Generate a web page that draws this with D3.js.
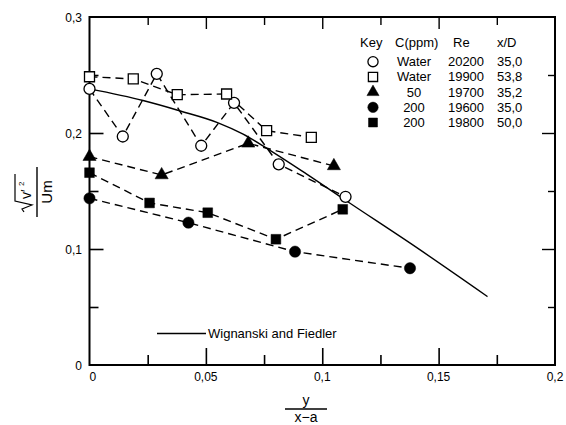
<!DOCTYPE html>
<html>
<head>
<meta charset="utf-8">
<script src="https://cdn.jsdelivr.net/npm/d3@7"></script>
<style>
  html, body { margin: 0; padding: 0; background: #fff; }
  svg { display: block; }
  text { font-family: "Liberation Sans", "DejaVu Sans", sans-serif; fill: #000; }
</style>
</head>
<body>
<svg id="chart" width="566" height="425"></svg>
<script>
// Turbulence intensity profiles: sqrt(v'^2)/Um against y/(x-a)
const waterA_x = [0, 0.0143, 0.0289, 0.0480, 0.0621, 0.0813, 0.1100];
const waterA_y = [0.238, 0.197, 0.251, 0.189, 0.226, 0.173, 0.145];

const waterB_x = [0, 0.0188, 0.0377, 0.0589, 0.0761, 0.0953];
const waterB_y = [0.2485, 0.2466, 0.233, 0.2336, 0.202, 0.1963];

const ppm50_x = [0, 0.031, 0.0682, 0.105];
const ppm50_y = [0.1796, 0.1638, 0.1911, 0.1716];

const ppm200a_x = [0, 0.0425, 0.0883, 0.1377];
const ppm200a_y = [0.1437, 0.1227, 0.0977, 0.0834];

const ppm200b_x = [0, 0.0258, 0.0508, 0.0801, 0.1088];
const ppm200b_y = [0.1658, 0.1397, 0.1313, 0.1084, 0.1342];

// Wygnanski and Fiedler reference curve
const refCurve_x = [0, 0.023, 0.039, 0.055, 0.066, 0.076, 0.093, 0.110, 0.140, 0.171];
const refCurve_y = [0.238, 0.228, 0.219, 0.209, 0.199, 0.187, 0.165, 0.142, 0.102, 0.059];

const xTickValues = [0, 0.05, 0.1, 0.15, 0.2];
const xTickLabels = ["0", "0,05", "0,1", "0,15", "0,2"];
const yTickValues = [0, 0.1, 0.2, 0.3];
const yTickLabels = ["0", "0,1", "0,2", "0,3"];

const legendHeader = ["Key", "C(ppm)", "Re", "x/D"];
const legendConc = ["Water", "Water", "50", "200", "200"];
const legendRe = ["20200", "19900", "19700", "19600", "19800"];
const legendXD = ["35,0", "53,8", "35,2", "35,0", "50,0"];
const refLabel = "Wignanski and Fiedler";

const svg = d3.select("#chart");

const x = d3.scaleLinear().domain([0, 0.2]).range([89.5, 555]);
const y = d3.scaleLinear().domain([0, 0.3]).range([365, 17]);

// Frame
const frame = svg.append("g").attr("stroke", "#000").attr("fill", "none");
frame.append("path")
  .attr("d", `M${x(0)},${y(0.3)}H${x(0.2)}V${y(0)}H${x(0)}Z`)
  .attr("stroke-width", 2);

// Inward ticks on all four sides
const xMinor = d3.range(0, 9).map(i => i * 0.025).filter(v => v > 0 && v < 0.2);
const yMinor = d3.range(0, 7).map(i => i * 0.05).filter(v => v > 0 && v < 0.3);
const isMult = (d, step) => Math.abs(d / step - Math.round(d / step)) < 1e-6;

const bAx = svg.append("g").attr("transform", `translate(0,${y(0)})`)
  .call(d3.axisBottom(x).tickValues(xMinor).tickSizeInner(0).tickSizeOuter(0).tickFormat(""));
bAx.select(".domain").remove();
bAx.selectAll(".tick line")
  .attr("y2", d => isMult(d, 0.05) ? -17 : -10)
  .attr("stroke", "#000").attr("stroke-width", 1.6);

const tAx = svg.append("g").attr("transform", `translate(0,${y(0.3)})`)
  .call(d3.axisTop(x).tickValues(xMinor).tickSizeInner(0).tickSizeOuter(0).tickFormat(""));
tAx.select(".domain").remove();
tAx.selectAll(".tick line")
  .attr("y2", d => isMult(d, 0.05) ? 12 : 8)
  .attr("stroke", "#000").attr("stroke-width", 1.4);

const lAx = svg.append("g").attr("transform", `translate(${x(0)},0)`)
  .call(d3.axisLeft(y).tickValues(yMinor).tickSizeInner(0).tickSizeOuter(0).tickFormat(""));
lAx.select(".domain").remove();
lAx.selectAll(".tick line")
  .attr("x2", d => isMult(d, 0.1) ? 14 : 9)
  .attr("stroke", "#000").attr("stroke-width", 1.6);

const rAx = svg.append("g").attr("transform", `translate(${x(0.2)},0)`)
  .call(d3.axisRight(y).tickValues(yMinor).tickSizeInner(0).tickSizeOuter(0).tickFormat(""));
rAx.select(".domain").remove();
rAx.selectAll(".tick line")
  .attr("x2", d => isMult(d, 0.1) ? -13 : -7)
  .attr("stroke", "#000").attr("stroke-width", 1.4);

// Tick labels
svg.append("g").selectAll("text")
  .data(xTickValues)
  .join("text")
  .attr("x", d => x(d))
  .attr("y", 381)
  .attr("text-anchor", (d, i) => i === 0 ? "start" : (i === xTickValues.length - 1 ? "middle" : "middle"))
  .attr("font-size", 12)
  .text((d, i) => xTickLabels[i]);

svg.append("g").selectAll("text")
  .data(yTickValues)
  .join("text")
  .attr("x", 82)
  .attr("y", d => y(d) + 5)
  .attr("text-anchor", "end")
  .attr("font-size", 12)
  .text((d, i) => yTickLabels[i]);

// Axis titles (fractions)
const xt = svg.append("g").attr("transform", "translate(306,409)");
xt.append("text").attr("x", 0).attr("y", -4).attr("text-anchor", "middle")
  .attr("font-size", 14).text("y");
xt.append("line").attr("x1", -21).attr("x2", 21).attr("y1", 0).attr("y2", 0)
  .attr("stroke", "#000").attr("stroke-width", 1.4);
xt.append("text").attr("x", 0).attr("y", 13).attr("text-anchor", "middle")
  .attr("font-size", 14).text("x\u2212a");

const yt = svg.append("g").attr("transform", "translate(37,192) rotate(-90)");
yt.append("line").attr("x1", -25).attr("x2", 25).attr("y1", 0).attr("y2", 0)
  .attr("stroke", "#000").attr("stroke-width", 1.4);
yt.append("path")
  .attr("d", "M-20,-13 L-17,-15 L-13,-5 L-9,-22 H18")
  .attr("fill", "none").attr("stroke", "#000").attr("stroke-width", 1.2);
yt.append("text").attr("x", -7).attr("y", -6).attr("font-size", 14).text("v\u2032");
yt.append("text").attr("x", 6).attr("y", -13).attr("font-size", 8).text("2");
yt.append("text").attr("x", 0).attr("y", 15).attr("text-anchor", "middle")
  .attr("font-size", 15).text("Um");

// Series
const series = [
  { xs: waterA_x, ys: waterA_y, type: d3.symbolCircle, size: 95, filled: false },
  { xs: waterB_x, ys: waterB_y, type: d3.symbolSquare, size: 100, filled: false },
  { xs: ppm50_x, ys: ppm50_y, type: d3.symbolTriangle, size: 75, filled: true },
  { xs: ppm200a_x, ys: ppm200a_y, type: d3.symbolCircle, size: 100, filled: true },
  { xs: ppm200b_x, ys: ppm200b_y, type: d3.symbolSquare, size: 95, filled: true }
];

const line = d3.line().x(d => x(d[0])).y(d => y(d[1]));

// Reference curve
svg.append("path")
  .datum(d3.zip(refCurve_x, refCurve_y))
  .attr("d", d3.line().x(d => x(d[0])).y(d => y(d[1])).curve(d3.curveMonotoneX))
  .attr("fill", "none").attr("stroke", "#000").attr("stroke-width", 1.4);

series.forEach(s => {
  svg.append("path")
    .datum(d3.zip(s.xs, s.ys))
    .attr("d", line)
    .attr("fill", "none")
    .attr("stroke", "#000")
    .attr("stroke-width", 1.4)
    .attr("stroke-dasharray", "8,5");
});

series.forEach(s => {
  svg.append("g").selectAll("path")
    .data(d3.zip(s.xs, s.ys))
    .join("path")
    .attr("transform", d => `translate(${x(d[0])},${y(d[1])})`)
    .attr("d", d3.symbol().type(s.type).size(s.size))
    .attr("fill", s.filled ? "#000" : "#fff")
    .attr("stroke", "#000")
    .attr("stroke-width", s.filled ? 0.5 : 1.3);
});

// Key
const key = svg.append("g").attr("font-size", 13);
const colX = [360, 395, 453, 497];
legendHeader.forEach((h, i) => {
  key.append("text").attr("x", colX[i]).attr("y", 47).text(h);
});
const rowY = [61.7, 76.9, 92.1, 107.3, 122.5];
series.forEach((s, i) => {
  key.append("path")
    .attr("transform", `translate(373,${rowY[i]})`)
    .attr("d", d3.symbol().type(s.type).size(s.size * 0.85))
    .attr("fill", s.filled ? "#000" : "#fff")
    .attr("stroke", "#000")
    .attr("stroke-width", s.filled ? 0.5 : 1.3);
  key.append("text").attr("x", 414).attr("y", rowY[i] + 4.5)
    .attr("text-anchor", "middle").text(legendConc[i]);
  key.append("text").attr("x", 466).attr("y", rowY[i] + 4.5)
    .attr("text-anchor", "middle").text(legendRe[i]);
  key.append("text").attr("x", 497).attr("y", rowY[i] + 4.5).text(legendXD[i]);
});

// Reference curve label
svg.append("line")
  .attr("x1", 157).attr("x2", 206).attr("y1", 333.5).attr("y2", 333.5)
  .attr("stroke", "#000").attr("stroke-width", 1.4);
svg.append("text").attr("x", 208).attr("y", 338).attr("font-size", 13).text(refLabel);
</script>
</body>
</html>
